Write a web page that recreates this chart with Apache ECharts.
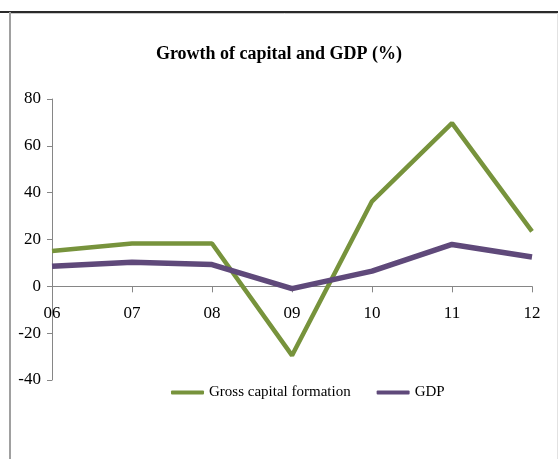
<!DOCTYPE html>
<html>
<head>
<meta charset="utf-8">
<title>Growth of capital and GDP (%)</title>
<script src="https://cdn.jsdelivr.net/npm/echarts@6/dist/echarts.min.js"></script>
<style>
  html, body { margin: 0; padding: 0; background: #ffffff; }
  #chart { width: 558px; height: 459px; }
</style>
</head>
<body>
<div id="chart"></div>
<script>
// Years (two-digit labels) along the horizontal axis
const years = ['06', '07', '08', '09', '10', '11', '12'];

// Annual growth rates, percent
const grossCapitalFormation = [15.1, 18.3, 18.3, -29.5, 36.3, 69.7, 23.5];
const gdp = [8.6, 10.3, 9.3, -1.0, 6.5, 17.9, 12.5];

// Series names shown in the legend
const seriesNames = ['Gross capital formation', 'GDP'];

// Value axis range
const yMin = -40;
const yMax = 80;
const yStep = 20;

const FONT = "'Liberation Serif', 'Times New Roman', serif";
const GREEN = '#77933C';
const PURPLE = '#5F497A';
const AXIS_GREY = '#868686';

// Plot area
const GRID_TOP = 99;
const GRID_BOTTOM = 79;
const CHART_H = 459;
const plotH = CHART_H - GRID_TOP - GRID_BOTTOM;
// Lift the category axis (line, ticks and labels together) up to the zero line
const zeroOffset = -plotH * (0 - yMin) / (yMax - yMin);

const chart = echarts.init(document.getElementById('chart'), null, { renderer: 'canvas' });

chart.setOption({
  animation: false,
  backgroundColor: '#ffffff',
  title: {
    text: 'Growth of capital and GDP (%)',
    left: 'center',
    top: 40,
    textStyle: {
      fontFamily: FONT,
      fontWeight: 'bold',
      fontSize: 18,
      color: '#000000'
    }
  },
  legend: {
    left: 166,
    top: 380,
    icon: 'roundRect',
    itemWidth: 33,
    itemHeight: 4,
    itemGap: 26,
    textStyle: {
      fontFamily: FONT,
      fontSize: 15,
      color: '#000000'
    },
    data: seriesNames
  },
  grid: {
    left: 52,
    right: 26,
    top: GRID_TOP,
    bottom: GRID_BOTTOM,
    containLabel: false
  },
  xAxis: {
    type: 'category',
    data: years,
    boundaryGap: false,
    position: 'bottom',
    offset: zeroOffset,
    axisLine: { onZero: false, lineStyle: { color: AXIS_GREY, width: 1 } },
    axisTick: { show: true, length: 6, alignWithLabel: true, lineStyle: { color: AXIS_GREY } },
    axisLabel: {
      margin: 19,
      fontFamily: FONT,
      fontSize: 17,
      color: '#000000'
    },
    splitLine: { show: false }
  },
  yAxis: {
    type: 'value',
    min: yMin,
    max: yMax,
    interval: yStep,
    axisLine: { show: true, lineStyle: { color: AXIS_GREY, width: 1 } },
    axisTick: { show: true, length: 5, lineStyle: { color: AXIS_GREY } },
    axisLabel: {
      margin: 11,
      fontFamily: FONT,
      fontSize: 17,
      color: '#000000'
    },
    splitLine: { show: false }
  },
  series: [
    {
      name: seriesNames[0],
      type: 'line',
      data: grossCapitalFormation,
      symbol: 'none',
      color: GREEN,
      lineStyle: { color: GREEN, width: 4.5 },
      z: 2
    },
    {
      name: seriesNames[1],
      type: 'line',
      data: gdp,
      symbol: 'none',
      color: PURPLE,
      lineStyle: { color: PURPLE, width: 5.5 },
      z: 3
    }
  ],
  // Page frame lines around the chart area
  graphic: [
    { type: 'line', shape: { x1: 0, y1: 12, x2: 558, y2: 12 }, style: { stroke: '#2a2a2a', lineWidth: 2 }, silent: true },
    { type: 'line', shape: { x1: 11, y1: 13.5, x2: 558, y2: 13.5 }, style: { stroke: '#c8c8c8', lineWidth: 1 }, silent: true },
    { type: 'line', shape: { x1: 10, y1: 12, x2: 10, y2: 459 }, style: { stroke: '#a0a0a0', lineWidth: 2 }, silent: true },
    { type: 'line', shape: { x1: 557.5, y1: 13, x2: 557.5, y2: 459 }, style: { stroke: '#e2e2e2', lineWidth: 1 }, silent: true }
  ]
});
</script>
</body>
</html>
